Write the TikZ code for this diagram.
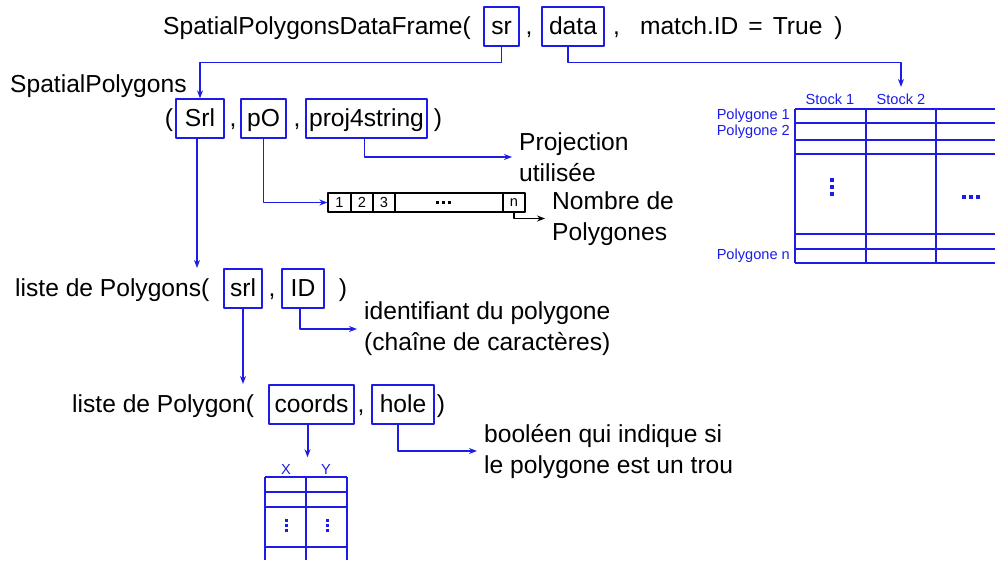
\documentclass[tikz,border=0pt]{standalone}
\usepackage{fontspec}
\setmainfont{Liberation Sans}
\usetikzlibrary{arrows.meta, calc}
\definecolor{pblue}{HTML}{1C1CE6}
\definecolor{ink}{HTML}{000000}
\newcommand{\bigtxt}{\fontsize{24.6pt}{31pt}\selectfont}
\newcommand{\smalltxt}{\fontsize{14.6pt}{16pt}\selectfont}
\tikzset{
  txt/.style={inner xsep=0pt, inner ysep=10pt, anchor=base west, font=\bigtxt},
  arg/.style={draw=pblue, line width=1.3pt, text height=19.5pt, text depth=4.5pt,
              inner ysep=7.5pt, inner xsep=0pt, anchor=base, font=\bigtxt},
  note/.style={anchor=west, align=left, inner xsep=7pt, inner ysep=0pt, font=\bigtxt},
  lnk/.style={pblue, line width=1.3pt, -{Stealth[length=8pt, width=6pt]}},
  lab/.style={pblue, inner xsep=1pt, inner ysep=6.5pt, font=\smalltxt},
  cell/.style={draw=ink, line width=1.2pt, minimum height=19pt, inner sep=0pt, font=\smalltxt},
  tabline/.style={pblue, line width=1.3pt}
}
\begin{document}
\begin{tikzpicture}[x=1pt, y=-1pt, line join=round]
  \useasboundingbox (0,0) rectangle (995,560);
  % SpatialPolygonsDataFrame
  \node[txt] (spdf) at (163,34) {SpatialPolygonsDataFrame(};
  \node[arg, minimum width=35pt] (sr) at (501.5,34) {sr};
  \node[txt, anchor=base] (k1) at (529,34) {,};
  \node[arg, minimum width=62pt] (data) at (573,34) {data};
  \node[txt] (mid) at (613,34) {,\hspace{20pt}match.ID\hspace{10pt}=\hspace{10pt}True\hspace{12pt})};
  % SpatialPolygons
  \node[txt] (sp) at (10,92) {SpatialPolygons};
  \node[txt, anchor=base] (p1) at (169,126) {(};
  \node[arg, minimum width=48pt] (Srl) at (200,126) {Srl};
  \node[txt, anchor=base] (k2) at (233,126) {,};
  \node[arg, minimum width=45pt] (pO) at (263.5,126) {pO};
  \node[txt, anchor=base] (k3) at (297,126) {,};
  \node[arg, minimum width=121pt] (proj) at (366.5,126) {proj4string};
  \node[txt, anchor=base] (p2) at (438,126) {)};
  % liste de Polygons
  \node[txt] (lps) at (15,296) {liste de Polygons(};
  \node[arg, minimum width=38pt] (srl) at (243,296) {srl};
  \node[txt, anchor=base] (k4) at (272,296) {,};
  \node[arg, minimum width=42pt] (ID) at (303,296) {ID};
  \node[txt, anchor=base] (p3) at (343,296) {)};
  % liste de Polygon
  \node[txt] (lp) at (72,412) {liste de Polygon(};
  \node[arg, minimum width=85pt] (coords) at (311.5,412) {coords};
  \node[txt, anchor=base] (k5) at (361,412) {,};
  \node[arg, minimum width=62pt] (hole) at (403,412) {hole};
  \node[txt, anchor=base] (p4) at (441,412) {)};
  % notes
  \node[note] (projn) at (512,157) {Projection\\utilisée};
  \node[note] (nbn) at (545,218.5) {Nombre de\\Polygones};
  \node[note] (idn) at (357,329) {identifiant du polygone\\(chaîne de caractères)};
  \node[note] (holen) at (477,451) {booléen qui indique si\\le polygone est un trou};
  % vecteur pO
  \node[cell, minimum width=23pt] (a1) at (339.5,202.5) {1};
  \node[cell, minimum width=22pt] (a2) at (362,202.5) {2};
  \node[cell, minimum width=22pt] (a3) at (384,202.5) {3};
  \node[cell, minimum width=108pt] (adots) at (449,202.5) {};
  \node[cell, minimum width=22pt] (an) at (514,202.5) {n};
  \foreach \x in {437,443,449} \fill[ink] (\x-1.5,201) rectangle ++(3,3);
  % data
  \foreach \y in {109,123,140,154,234,249,263} \draw[tabline] (795,\y) -- (995,\y);
  \foreach \x in {795,866,936} \draw[tabline] (\x,109) -- (\x,263);
  \node[lab] (s1) at (830,99) {Stock 1};
  \node[lab] (s2) at (901,99) {Stock 2};
  \node[lab, anchor=east] (pg1) at (791,116) {Polygone 1};
  \node[lab, anchor=east] (pg2) at (791,132) {Polygone 2};
  \node[lab, anchor=east] (pgn) at (791,256) {Polygone n};
  \foreach \y in {180,187,194} \fill[pblue] (830,\y-2) rectangle ++(4,4);
  \foreach \x in {964,971,978} \fill[pblue] (\x-2,195) rectangle ++(4,4);
  % coords
  \foreach \y in {477,492,507,547} \draw[tabline] (265,\y) -- (347,\y);
  \foreach \x in {265,306,347} \draw[tabline] (\x,477) -- (\x,560);
  \node[lab] (xl) at (286,469) {X};
  \node[lab] (yl) at (326,469) {Y};
  \foreach \x in {286,327} \foreach \y in {520,525,530} \fill[pblue] (\x-1.5,\y-1.5) rectangle ++(3,3);
  % liens
  \draw[lnk] (sr.south) -- ++(0,16) -| (Srl.north);
  \draw[lnk] ([xshift=-5pt]data.south) -- ++(0,16) -| (s2.north);
  \draw[lnk, line width=2pt] ([xshift=-3pt]Srl.south) -- ([xshift=-3pt]Srl.south |- lps.north);
  \draw[lnk] (pO.south) |- (a1.west);
  \draw[lnk] ([xshift=-2pt]proj.south) |- (projn.west);
  \draw[ink, line width=1.2pt, -{Stealth[length=8pt, width=6pt]}] (an.south) |- (nbn.west);
  \draw[lnk, line width=2pt] (srl.south) -- (srl.south |- lp.north);
  \draw[lnk] ([xshift=-3pt]ID.south) |- (idn.west);
  \draw[lnk, line width=2pt] ([xshift=-4pt]coords.south) -- ([xshift=-4pt]coords.south |- xl.north);
  \draw[lnk] ([xshift=-5pt]hole.south) |- (holen.west);
\end{tikzpicture}
\end{document}
